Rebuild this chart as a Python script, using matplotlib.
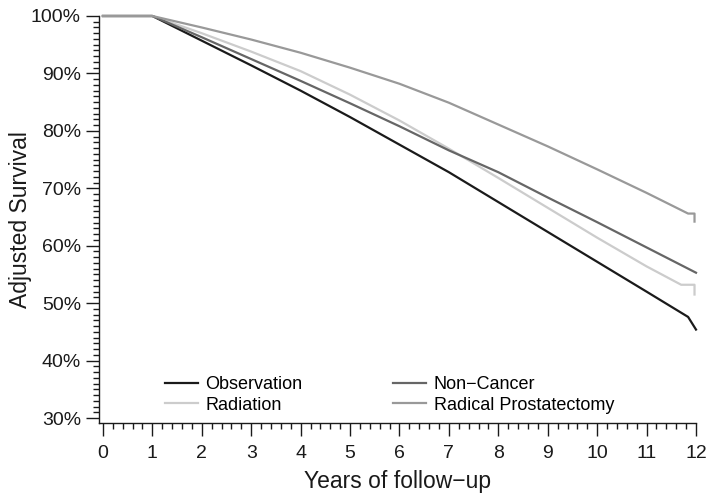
import numpy as np
import matplotlib.pyplot as plt
from matplotlib.ticker import MultipleLocator, FuncFormatter

plt.rcParams['font.family'] = ['Liberation Sans', 'DejaVu Sans']

# survival curves (years, percent)
obs_years = [0, 1, 2, 3, 4, 5, 6, 7, 8, 9, 10, 11, 11.84, 12]
obs_surv = [100, 100, 95.7, 91.4, 87.0, 82.4, 77.6, 72.8, 67.6, 62.4, 57.2, 52.0, 47.6, 45.4]

rad_years = [0, 1, 2, 3, 4, 5, 6, 7, 8, 9, 10, 11, 11.7, 11.97, 11.97]
rad_surv = [100, 100, 97.0, 93.8, 90.4, 86.3, 81.8, 76.9, 71.8, 66.6, 61.4, 56.4, 53.2, 53.2, 51.5]

nc_years = [0, 1, 2, 3, 4, 5, 6, 7, 8, 9, 10, 11, 12]
nc_surv = [100, 100, 96.3, 92.5, 88.7, 84.8, 80.8, 76.6, 72.8, 68.4, 64.1, 59.7, 55.3]

rp_years = [0, 1, 2, 3, 4, 5, 6, 7, 8, 9, 10, 11, 11.84, 11.97, 11.97]
rp_surv = [100, 100, 98.0, 95.9, 93.6, 91.0, 88.2, 84.9, 81.1, 77.3, 73.3, 69.2, 65.6, 65.6, 64.2]

fig = plt.figure(figsize=(7.06, 4.97), dpi=100)
ax = fig.add_axes([99 / 706, 1 - 423 / 497, (696 - 99) / 706, (423 - 16) / 497])

lw = 1.6
ax.plot(obs_years, obs_surv, color='#1a1a1a', lw=lw, label='Observation', clip_on=False)
ax.plot(rad_years, rad_surv, color='#cccccc', lw=lw, label='Radiation', clip_on=False)
ax.plot(nc_years, nc_surv, color='#666666', lw=lw, label='Non\u2212Cancer', clip_on=False)
ax.plot(rp_years, rp_surv, color='#999999', lw=lw, label='Radical Prostatectomy', clip_on=False)

ax.set_xlim(-0.08, 12)
ax.set_ylim(29.13, 100)

for s in ['top', 'right']:
    ax.spines[s].set_visible(False)
ax.spines['left'].set_bounds(29.13, 100)
ax.spines['bottom'].set_bounds(-0.08, 12)
for s in ['left', 'bottom']:
    ax.spines[s].set_linewidth(1.0)
    ax.spines[s].set_color('#1a1a1a')

ax.xaxis.set_major_locator(MultipleLocator(1))
ax.xaxis.set_minor_locator(MultipleLocator(0.2))
ax.yaxis.set_minor_locator(MultipleLocator(1))
ax.set_yticks(np.arange(30, 101, 10))
ax.yaxis.set_major_formatter(FuncFormatter(lambda v, p: f'{int(round(v))}%'))

ax.tick_params(axis='both', which='major', direction='out', length=9.5, width=1.0,
               labelsize=14, colors='#1a1a1a')
ax.tick_params(axis='both', which='minor', direction='out', length=4.5, width=1.0,
               colors='#1a1a1a')
ax.tick_params(axis='x', which='major', pad=6)
ax.tick_params(axis='y', which='major', pad=3.5)

ax.set_xlabel('Years of follow\u2212up', fontsize=16.5, color='#1a1a1a')
ax.set_ylabel('Adjusted Survival', fontsize=16.5, color='#1a1a1a')
ax.xaxis.set_label_coords(0.5, -0.115)
ax.yaxis.set_label_coords(-0.112, 0.5)

ax.legend(loc='upper left', bbox_to_anchor=(165 / 706, 1 - 376 / 497),
          bbox_transform=fig.transFigure, ncol=2, frameon=False, fontsize=13,
          handlelength=1.85, handletextpad=0.4, columnspacing=5.0,
          labelspacing=0.2, borderpad=0, borderaxespad=0)

fig.savefig('out.png', dpi=100)
